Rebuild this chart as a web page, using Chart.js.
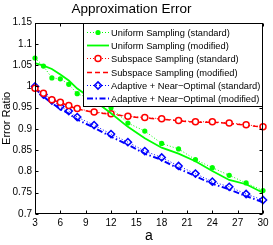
<!DOCTYPE html>
<html><head><meta charset="utf-8">
<script src="https://cdn.jsdelivr.net/npm/chart.js@4.4.1/dist/chart.umd.min.js"></script>
<style>html,body{margin:0;padding:0;background:#fff;}canvas{display:block;}</style>
</head><body>
<canvas id="c" width="273" height="245"></canvas>
<script>
// ---- data ----
const aValues = [3,4,5,6,7,8,10,12,14,16,18,20,22,24,26,28,30];
const uniformStandard = [1.067,1.048,1.020,1.018,1.005,0.983,0.968,0.950,0.914,0.895,0.866,0.853,0.828,0.809,0.791,0.773,0.755];
const uniformModified = [1.055,1.049,1.041,1.028,1.014,0.995,0.967,0.937,0.905,0.878,0.856,0.842,0.824,0.801,0.780,0.770,0.750];
const subspaceStandard = [0.996,0.984,0.969,0.963,0.955,0.948,0.940,0.936,0.930,0.927,0.924,0.920,0.917,0.917,0.914,0.910,0.905];
const subspaceModified = [0.995,0.983,0.968,0.962,0.954,0.947,0.939,0.935,0.929,0.926,0.923,0.919,0.916,0.916,0.913,0.909,0.904];
const adaptiveStandard = [1.000,0.981,0.967,0.953,0.942,0.928,0.909,0.888,0.869,0.848,0.833,0.813,0.795,0.776,0.764,0.747,0.733];
const adaptiveModified = [0.996,0.976,0.961,0.947,0.936,0.922,0.903,0.882,0.863,0.842,0.827,0.807,0.789,0.771,0.758,0.742,0.728];
const xTickValues = [3,6,9,12,15,18,21,24,27,30];
const yTickValues = [0.7,0.75,0.8,0.85,0.9,0.95,1,1.05,1.1,1.15];
const seriesNames = [
  'Uniform Sampling (standard)',
  'Uniform Sampling (modified)',
  'Subspace Sampling (standard)',
  'Subspace Sampling (modified)',
  'Adaptive + Near\u2212Optimal (standard)',
  'Adaptive + Near\u2212Optimal (modified)'
];
const titleText = 'Approximation Error';
const xTitle = 'a';
const yTitle = 'Error Ratio';

const FONT = "'Liberation Sans', Arial, Helvetica, sans-serif";
Chart.defaults.font.family = FONT;
Chart.defaults.color = '#000';

const G = '#00ff00', R = '#ff0000', B = '#0000ff';
const styles = [
  {color:G, width:1, dash:[1,2], marker:'dot'},
  {color:G, width:1.8, dash:[], marker:null},
  {color:R, width:1, dash:[1,2], marker:'circle'},
  {color:R, width:1.5, dash:[5,3], marker:null},
  {color:B, width:1, dash:[1,2], marker:'diamond'},
  {color:B, width:2, dash:[6,2.5,1.5,2.5], marker:null}
];
const seriesData = [uniformStandard, uniformModified, subspaceStandard, subspaceModified, adaptiveStandard, adaptiveModified];

function mk(i){
  const s = styles[i];
  const d = {
    label: seriesNames[i],
    data: aValues.map((a,k)=>({x:a, y:seriesData[i][k]})),
    borderColor: s.color, borderWidth: s.width, borderDash: s.dash,
    tension: 0, clip: false, fill: false,
    pointRadius: 0, pointHoverRadius: 0
  };
  if (s.marker==='dot'){ d.pointStyle='circle'; d.pointRadius=2.6; d.pointBackgroundColor=s.color; d.pointBorderColor=s.color; d.pointBorderWidth=0; }
  if (s.marker==='circle'){ d.pointStyle='circle'; d.pointRadius=3; d.pointBackgroundColor='#fff'; d.pointBorderColor=s.color; d.pointBorderWidth=1.5; }
  if (s.marker==='diamond'){ d.pointStyle='rectRot'; d.pointRadius=3.6; d.pointBackgroundColor='rgba(0,0,0,0)'; d.pointBorderColor=s.color; d.pointBorderWidth=1.5; }
  return d;
}

const framePlugin = {
  id:'frame',
  afterDatasetsDraw(chart){
    const {ctx, chartArea:a, scales} = chart;
    ctx.save();
    ctx.strokeStyle='#000'; ctx.lineWidth=1; ctx.setLineDash([]);
    const L=Math.round(a.left)+0.5, Rr=Math.round(a.right)-0.5, T=Math.round(a.top)+0.5, Bt=Math.round(a.bottom)-0.5;
    ctx.strokeRect(L, T, Rr-L, Bt-T);
    const tl=3;
    ctx.beginPath();
    scales.x.ticks.forEach(t=>{
      const px=Math.round(scales.x.getPixelForValue(t.value))+0.5;
      ctx.moveTo(px,Bt); ctx.lineTo(px,Bt-tl);
      ctx.moveTo(px,T); ctx.lineTo(px,T+tl);
    });
    scales.y.ticks.forEach(t=>{
      const py=Math.round(scales.y.getPixelForValue(t.value))+0.5;
      ctx.moveTo(L,py); ctx.lineTo(L+tl,py);
      ctx.moveTo(Rr,py); ctx.lineTo(Rr-tl,py);
    });
    ctx.stroke();
    // legend
    const bx=83.5, by=T, bw=Rr-83.5, bh=83;
    ctx.fillStyle='#fff'; ctx.fillRect(bx,by,bw,bh);
    ctx.strokeRect(bx,by,bw,bh);
    ctx.font = "9.3px " + FONT;
    ctx.textBaseline='middle'; ctx.textAlign='left';
    for(let i=0;i<6;i++){
      const s=styles[i];
      const y=Math.round(31.7+i*13.35)+0.5;
      ctx.strokeStyle=s.color; ctx.lineWidth=s.width; ctx.setLineDash(s.dash);
      ctx.beginPath(); ctx.moveTo(87,y); ctx.lineTo(109,y); ctx.stroke();
      ctx.setLineDash([]);
      const cx=98;
      if(s.marker==='dot'){ ctx.fillStyle=s.color; ctx.beginPath(); ctx.arc(cx,y,2.6,0,Math.PI*2); ctx.fill(); }
      if(s.marker==='circle'){ ctx.fillStyle='#fff'; ctx.lineWidth=1.5; ctx.beginPath(); ctx.arc(cx,y,3,0,Math.PI*2); ctx.fill(); ctx.stroke(); }
      if(s.marker==='diamond'){ ctx.lineWidth=1.5; const r=3.6; ctx.beginPath(); ctx.moveTo(cx,y-r); ctx.lineTo(cx+r,y); ctx.lineTo(cx,y+r); ctx.lineTo(cx-r,y); ctx.closePath(); ctx.stroke(); }
      ctx.fillStyle='#000';
      ctx.fillText(seriesNames[i], 111, y+0.5);
    }
    ctx.restore();
  }
};

new Chart(document.getElementById('c'), {
  type:'line',
  data:{ datasets:[0,1,2,3,4,5].map(mk) },
  options:{
    responsive:false, animation:false, devicePixelRatio:1,
    layout:{ padding:{left:0, right:10, top:0, bottom:0} },
    plugins:{
      legend:{display:false}, tooltip:{enabled:false},
      title:{display:true, text:titleText, color:'#000', font:{size:13.5, weight:'normal', family:FONT}, padding:{top:1.5, bottom:5}}
    },
    scales:{
      x:{
        type:'linear', min:3, max:30,
        afterBuildTicks(s){ s.ticks = xTickValues.map(v=>({value:v})); },
        afterFit(s){ s.height=31; s.paddingLeft=0; s.paddingRight=0; },
        ticks:{ font:{size:10}, color:'#000', padding:3, maxRotation:0, autoSkip:false, callback:v=>String(v) },
        grid:{ display:false, drawTicks:false }, border:{display:false},
        title:{ display:true, text:xTitle, font:{size:14}, color:'#000', padding:{top:3, bottom:0} }
      },
      y:{
        type:'linear', min:0.7, max:1.15,
        afterBuildTicks(s){ s.ticks = yTickValues.map(v=>({value:v})); },
        afterFit(s){ s.width=35; s.paddingTop=0; s.paddingBottom=0; },
        ticks:{ font:{size:10}, color:'#000', padding:3, autoSkip:false, callback:v=>String(v) },
        grid:{ display:false, drawTicks:false }, border:{display:false},
        title:{ display:true, text:yTitle, font:{size:11}, color:'#000', padding:{top:0, bottom:0} }
      }
    }
  },
  plugins:[framePlugin]
});
</script>
</body></html>
